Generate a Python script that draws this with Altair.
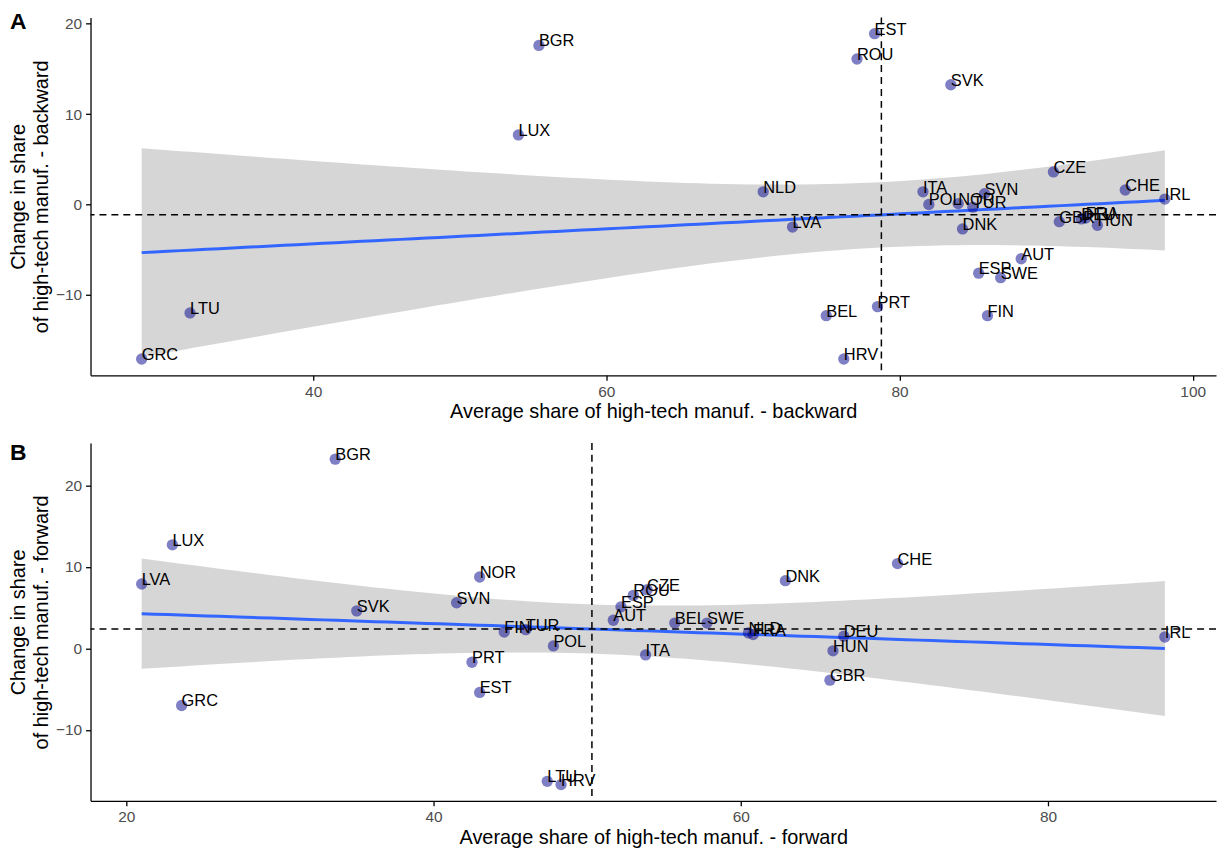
import altair as alt
import numpy as np
import pandas as pd

# ---------------- Panel A: backward ----------------
a_country = ["EST", "BGR", "ROU", "SVK", "LUX", "CZE", "NLD", "ITA", "SVN", "POL",
             "NOR", "TUR", "CHE", "IRL", "LVA", "DNK", "GBR", "DEU", "FRA", "HUN",
             "AUT", "ESP", "SWE", "PRT", "BEL", "FIN", "LTU", "GRC", "HRV"]
a_x = [78.3, 55.4, 77.1, 83.5, 54.0, 90.5, 70.7, 81.6, 85.8, 82.0,
       84.0, 85.0, 95.4, 98.1, 72.7, 84.3, 90.9, 92.4, 92.7, 93.5,
       88.3, 85.4, 86.9, 78.5, 75.0, 86.0, 31.6, 28.3, 76.2]
a_y = [18.9, 17.6, 16.1, 13.25, 7.7, 3.6, 1.4, 1.4, 1.2, 0.0,
       0.1, -0.3, 1.6, 0.6, -2.5, -2.7, -1.9, -1.6, -1.5, -2.3,
       -6.0, -7.6, -8.1, -11.3, -12.3, -12.3, -12.0, -17.1, -17.1]

# ---------------- Panel B: forward ----------------
b_country = ["BGR", "LUX", "LVA", "GRC", "SVK", "NOR", "SVN", "FIN", "TUR", "POL",
             "PRT", "EST", "LTU", "HRV", "AUT", "ESP", "ROU", "CZE", "ITA", "BEL",
             "SWE", "NLD", "FRA", "DNK", "DEU", "HUN", "GBR", "CHE", "IRL"]
b_x = [33.6, 23.0, 21.0, 23.6, 35.0, 43.0, 41.5, 44.6, 46.0, 47.8,
       42.5, 43.0, 47.4, 48.3, 51.7, 52.2, 53.0, 53.9, 53.8, 55.7,
       57.8, 60.5, 60.8, 62.9, 66.7, 66.0, 65.8, 70.2, 87.6]
b_y = [23.2, 12.7, 7.9, -7.0, 4.6, 8.75, 5.6, 2.0, 2.3, 0.3,
       -1.7, -5.4, -16.3, -16.7, 3.45, 5.1, 6.5, 7.2, -0.8, 3.1,
       3.1, 1.9, 1.7, 8.3, 1.5, -0.3, -3.9, 10.4, 1.4]

a_xticks = [40, 60, 80, 100]
a_yticks = [-10, 0, 10, 20]
b_xticks = [20, 40, 60, 80]
b_yticks = [-10, 0, 10, 20]

FONT = "Liberation Sans"


def fit_band(xs, ys, n_grid=80):
    """Linear fit with 95% confidence band (like geom_smooth(method='lm'))."""
    x = np.asarray(xs, float)
    y = np.asarray(ys, float)
    n = len(x)
    slope, intercept = np.polyfit(x, y, 1)
    resid = y - (intercept + slope * x)
    s = np.sqrt((resid ** 2).sum() / (n - 2))
    xbar = x.mean()
    sxx = ((x - xbar) ** 2).sum()
    g = np.linspace(x.min(), x.max(), n_grid)
    fit = intercept + slope * g
    se = s * np.sqrt(1.0 / n + (g - xbar) ** 2 / sxx)
    t = 2.0518  # t(0.975, df=27)
    return pd.DataFrame({"x": g, "fit": fit, "lo": fit - t * se, "hi": fit + t * se})


def expand(vals):
    lo, hi = min(vals), max(vals)
    pad = (hi - lo) * 0.05
    return [lo - pad, hi + pad]


def panel(letter, letter_y, countries, xs, ys, xticks, yticks, xtitle, ytitle, h):
    pts = pd.DataFrame({"country": countries, "x": xs, "y": ys})
    band = fit_band(xs, ys)
    xsc = alt.Scale(domain=expand(xs), nice=False, zero=False)
    ysc = alt.Scale(domain=expand(ys), nice=False, zero=False)
    xax = alt.Axis(values=xticks, title=xtitle, format="d")
    yax = alt.Axis(values=yticks, title=ytitle, format="d")

    area = alt.Chart(band).mark_area(color="#999999", opacity=0.4).encode(
        x=alt.X("x:Q", scale=xsc, axis=xax),
        y=alt.Y("lo:Q", scale=ysc, axis=yax),
        y2="hi:Q",
    )
    line = alt.Chart(band).mark_line(color="#3366FF", strokeWidth=3).encode(
        x=alt.X("x:Q", scale=xsc, axis=xax),
        y=alt.Y("fit:Q", scale=ysc, axis=yax),
    )
    vrule = alt.Chart(pts).transform_aggregate(mx="mean(x)").mark_rule(
        color="black", strokeDash=[7, 5], strokeWidth=1.5
    ).encode(x=alt.X("mx:Q", scale=xsc, axis=xax))
    hrule = alt.Chart(pts).transform_aggregate(my="mean(y)").mark_rule(
        color="black", strokeDash=[7, 5], strokeWidth=1.5
    ).encode(y=alt.Y("my:Q", scale=ysc, axis=yax))
    points = alt.Chart(pts).mark_circle(color="#00008B", opacity=0.5, size=130).encode(
        x=alt.X("x:Q", scale=xsc, axis=xax),
        y=alt.Y("y:Q", scale=ysc, axis=yax),
    )
    labels = alt.Chart(pts).mark_text(
        align="left", baseline="alphabetic", dy=1, fontSize=16.5, font=FONT, color="black"
    ).encode(
        x=alt.X("x:Q", scale=xsc, axis=xax),
        y=alt.Y("y:Q", scale=ysc, axis=yax),
        text="country:N",
    )
    tag = alt.Chart(pd.DataFrame({"t": [letter]})).mark_text(
        align="left", baseline="top", fontSize=23, fontWeight="bold", font=FONT, color="black"
    ).encode(x=alt.value(-81), y=alt.value(letter_y), text="t:N")

    return alt.layer(area, line, vrule, hrule, points, labels, tag).properties(
        width=1132, height=h
    )


pA = panel("A", -6, a_country, a_x, a_y, a_xticks, a_yticks,
           "Average share of high-tech manuf. - backward",
           ["Change in share", "of high-tech manuf. - backward"], 360)
pB = panel("B", -1, b_country, b_x, b_y, b_xticks, b_yticks,
           "Average share of high-tech manuf. - forward",
           ["Change in share", "of high-tech manuf. - forward"], 360)

chart = alt.vconcat(pA, pB, spacing=20).properties(
    padding={"top": 1, "left": 0, "right": 0, "bottom": 0}
).configure_view(stroke=None).configure_axis(
    grid=False,
    domainColor="black",
    domainWidth=1.3,
    tickColor="black",
    tickWidth=1.3,
    tickSize=5,
    labelFont=FONT,
    labelFontSize=15.5,
    labelColor="#4D4D4D",
    labelPadding=4,
    titleFont=FONT,
    titleFontSize=20,
    titleFontWeight="normal",
    titleColor="black",
).configure_axisY(
    titlePadding=4,
    titleLineHeight=23,
).configure_axisX(
    titlePadding=2,
)

chart.save("out.html", embed_options={"renderer": "svg", "actions": False})
